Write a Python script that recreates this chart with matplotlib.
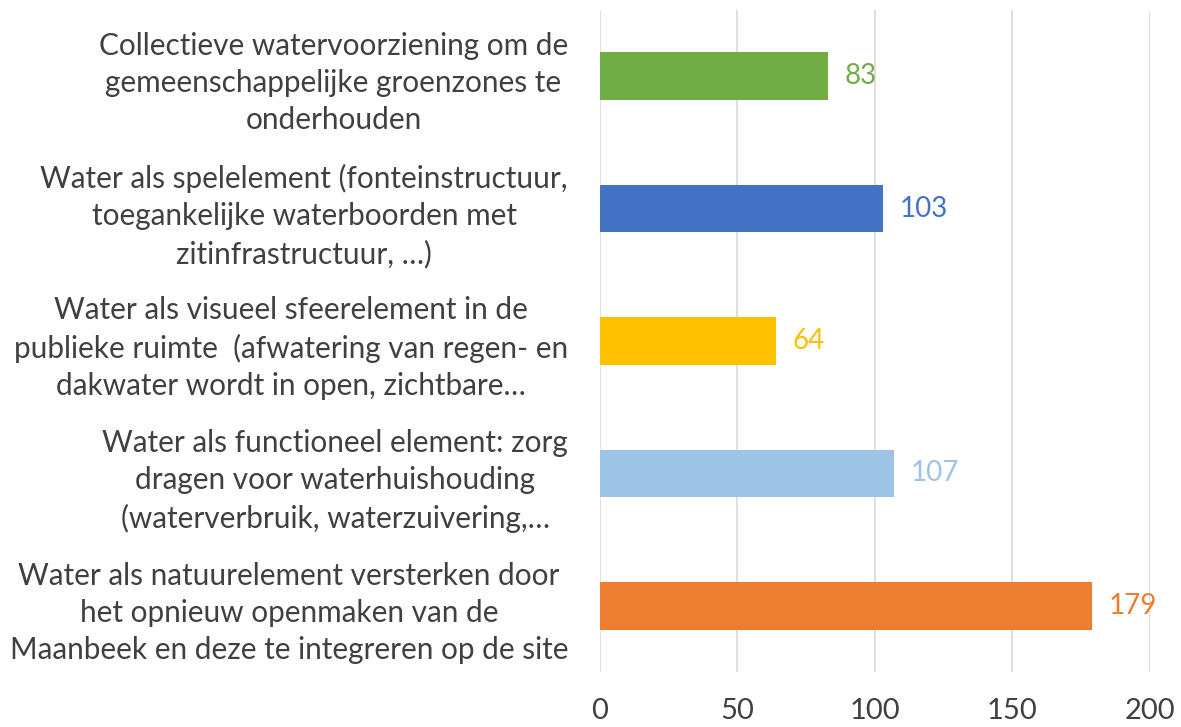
import matplotlib
matplotlib.use("Agg")
import matplotlib.pyplot as plt

categories = [
    "Water als natuurelement versterken door\nhet opnieuw openmaken van de\nMaanbeek en deze te integreren op de site",
    "Water als functioneel element: zorg\ndragen voor waterhuishouding\n(waterverbruik, waterzuivering,…",
    "Water als visueel sfeerelement in de\npublieke ruimte  (afwatering van regen- en\ndakwater wordt in open, zichtbare…",
    "Water als spelelement (fonteinstructuur,\ntoegankelijke waterboorden met\nzitinfrastructuur, …)",
    "Collectieve watervoorziening om de\ngemeenschappelijke groenzones te\nonderhouden",
]
values = [179, 107, 64, 103, 83]
colors = ["#ED7D31", "#9DC3E6", "#FFC000", "#4472C4", "#70AD47"]
xticks = [0, 50, 100, 150, 200]

plt.rcParams['font.family'] = ['Lato', 'DejaVu Sans']

fig = plt.figure(figsize=(11.81, 7.27), dpi=100)
ax = fig.add_axes([0.508, 0.0757, 0.4657, 0.9106])

y = range(len(values))
ax.barh(list(y), values, height=0.36, color=colors, zorder=3)
for i, (v, c) in enumerate(zip(values, colors)):
    ax.text(v + 6, i, str(v), va='center', ha='left', fontsize=20, color=c)

ax.set_xlim(0, 200)
ax.set_ylim(-0.5, len(values) - 0.5)
ax.set_xticks(xticks)
ax.set_xticklabels([str(t) for t in xticks], fontsize=21, color='#404040')
ax.set_yticks(list(y))
ax.set_yticklabels(categories, fontsize=21.4, color='#404040', linespacing=1.4,
                   ha='right', multialignment='center')
ax.tick_params(axis='both', length=0)
ax.tick_params(axis='y', pad=23)
ax.tick_params(axis='x', pad=19)
ax.grid(axis='x', color='#D9D9D9', linewidth=1.2, zorder=0)
for s in ax.spines.values():
    s.set_visible(False)

fig.savefig("out.png", dpi=100)
